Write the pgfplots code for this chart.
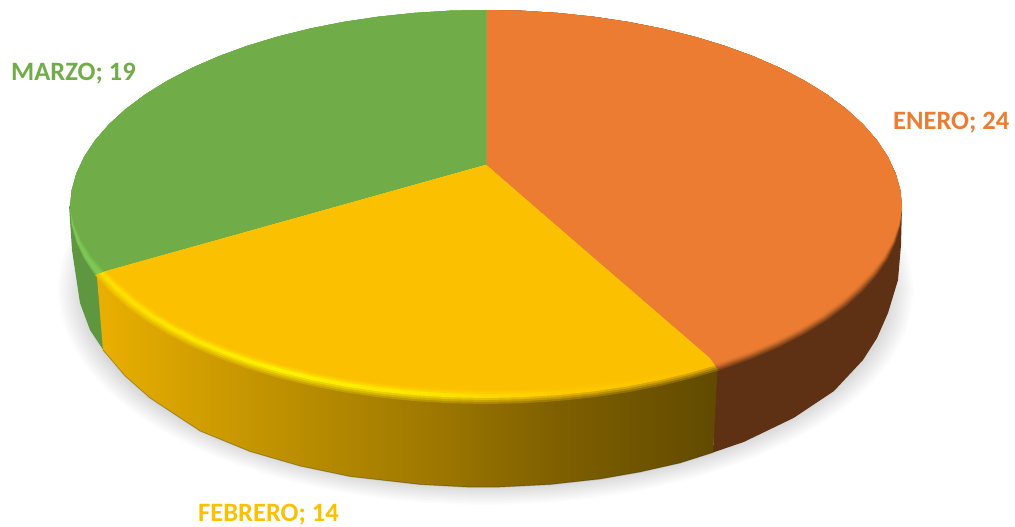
\documentclass[border=0pt]{standalone}
\usepackage{fontspec}
\setmainfont{Carlito}
\usepackage{pgfplots}
\usepackage{pgfplotstable}
\pgfplotsset{compat=1.18}
\definecolor{cOrange}{HTML}{EB7C31}
\definecolor{cYellow}{HTML}{FBC000}
\definecolor{cGreen}{HTML}{70AD48}
\definecolor{cBrown}{HTML}{5F3114}
\definecolor{cGreenSide}{HTML}{5F9741}
\definecolor{cGreenHi}{HTML}{7DC855}
% side colours of the yellow slice, left to right
\definecolor{eA}{HTML}{EAB000}\definecolor{eB}{HTML}{BE9000}\definecolor{eC}{HTML}{9E7800}\definecolor{eD}{HTML}{7F6000}\definecolor{eE}{HTML}{614A00}
% highlight colours of the yellow rim, left to right
\definecolor{hA}{HTML}{FFDD00}\definecolor{hB}{HTML}{FFF000}\definecolor{hC}{HTML}{FFE400}\definecolor{hD}{HTML}{FFCA00}\definecolor{hE}{HTML}{FBC000}
\newcommand\yrim[3]{%
  \pgfdeclarehorizontalshading{#1}{100bp}{%
    color(0bp)=(#2A!#3!hA);color(25bp)=(#2A!#3!hA);color(40bp)=(#2B!#3!hB);color(52bp)=(#2C!#3!hC);color(62bp)=(#2D!#3!hD);color(75bp)=(#2E!#3!hE);color(100bp)=(#2E!#3!hE)}}
\yrim{yE}{e}{100}
\yrim{yA}{e}{75}
\yrim{yB}{e}{50}
\yrim{yC}{e}{25}
\yrim{yH}{e}{0}
\pgfdeclarehorizontalshading{yF}{100bp}{color(0bp)=(hA!50!cYellow);color(25bp)=(hA!50!cYellow);color(40bp)=(hB!50!cYellow);color(52bp)=(hC!50!cYellow);color(62bp)=(hD!50!cYellow);color(75bp)=(cYellow);color(100bp)=(cYellow)}
\pgfdeclarehorizontalshading{yG}{100bp}{color(0bp)=(hA!20!cYellow);color(25bp)=(hA!20!cYellow);color(40bp)=(hB!20!cYellow);color(52bp)=(hC!20!cYellow);color(62bp)=(hD!20!cYellow);color(75bp)=(cYellow);color(100bp)=(cYellow)}

% slice outlines on the unit ellipse
\pgfplotstableread{
c s
0 -0.2172
0 -1
.0872 -.9962
.1736 -.9848
.2588 -.9659
.3420 -.9397
.4226 -.9063
.5 -.8660
.5736 -.8192
.6428 -.7660
.7071 -.7071
.7660 -.6428
.8192 -.5736
.8660 -.5
.9063 -.4226
.9397 -.3420
.9659 -.2588
.9848 -.1736
.9962 -.0872
1 0
.9962 .0872
.9848 .1736
.9659 .2588
.9397 .3420
.9063 .4226
.8660 .5
.8192 .5736
.7660 .6428
.7071 .7071
.6428 .7660
.5736 .8192
.5592 .8290
}\tOrange
\pgfplotstableread{
c s
0 -0.2172
.5592 .8290
.5 .8660
.4226 .9063
.3420 .9397
.2588 .9659
.1736 .9848
.0872 .9962
0 1
-.0872 .9962
-.1736 .9848
-.2588 .9659
-.3420 .9397
-.4226 .9063
-.5 .8660
-.5736 .8192
-.6428 .7660
-.7071 .7071
-.7660 .6428
-.8192 .5736
-.8660 .5
-.9063 .4226
-.9397 .3420
}\tYellow
\pgfplotstableread{
c s
0 -0.2172
-.9397 .3420
-.9659 .2588
-.9848 .1736
-.9962 .0872
-1 0
-.9962 -.0872
-.9848 -.1736
-.9659 -.2588
-.9397 -.3420
-.9063 -.4226
-.8660 -.5
-.8192 -.5736
-.7660 -.6428
-.7071 -.7071
-.6428 -.7660
-.5736 -.8192
-.5 -.8660
-.4226 -.9063
-.3420 -.9397
-.2588 -.9659
-.1736 -.9848
-.0872 -.9962
0 -1
}\tGreen
\pgfplotstableread{
c s
1 0
.9848 .1736
.9397 .3420
.8660 .5
.7660 .6428
.6428 .7660
.5 .8660
.3420 .9397
.1736 .9848
0 1
-.1736 .9848
-.3420 .9397
-.5 .8660
-.6428 .7660
-.7660 .6428
-.8660 .5
-.9397 .3420
-.9848 .1736
-1 0
-.9848 -.1736
-.9397 -.3420
-.8660 -.5
-.7660 -.6428
-.6428 -.7660
-.5 -.8660
-.3420 -.9397
-.1736 -.9848
0 -1
.1736 -.9848
.3420 -.9397
.5 -.8660
.6428 -.7660
.7660 -.6428
.8660 -.5
.9397 -.3420
.9848 -.1736
1 0
}\tCircle
\newcommand\slicelayer[3]{%
  \addplot[draw=none,#3] table[
    x expr={486+(416-#2*max(0,min(1,2.5*\thisrow{s})))*\thisrow{c}},
    y expr={208+((\thisrow{s}<0?198:196)-#2*max(0,min(1,2.5*\thisrow{s})))*\thisrow{s}}] #1;}
\begin{document}
\begin{tikzpicture}
\path[use as bounding box] (0,0) rectangle (1015pt,527pt);
\begin{axis}[at={(0,0)},anchor=south west,scale only axis,width=1015pt,height=527pt,
  xmin=0,xmax=1015,ymin=0,ymax=527,y dir=reverse,hide axis,no markers,clip=false]
% soft shadow
\pgfplotsinvokeforeach{24,22,20,18,16,14,12,10,8,6,4,2,0}{
  \addplot[draw=none,fill=black,fill opacity=.011,smooth] table[
    x expr={486+(404+#1)*\thisrow{c}},
    y expr={290+(197+.75*#1)*\thisrow{s}}] \tCircle;
}
% sides
\addplot[draw=none,fill=cBrown] coordinates {(716,360)(902,205)(901,245)(898,280)(888,313)(877,338)(863,360)(834,391)(793.5,418)(743.7,442)(713,452.5)};
\addplot[draw=none,fill=cGreenSide] coordinates {(96,262)(69,205)(72,250)(80,303)(90,330)(104,351)};
\addplot[draw=none,shade,shading=yE] coordinates {(96,265)(718,360)(713,452.5)(680,463)(640,472)(600,479)(550,484.5)(500,487)(467,487)(420,484.5)(350,476.5)(300,466)(250,451.5)(200,431)(150,398)(125,376)(103,350)};
\addplot[draw=black!50!eE,draw opacity=.3,line width=1pt] coordinates {(713,452.5)(680,463)(640,472)(600,479)(550,484.5)(500,487)(467,487)(420,484.5)(350,476.5)(300,466)(250,451.5)(200,431)(150,398)(125,376)(103,350)};
% orange top with dark rim
\slicelayer{\tOrange}{0}{fill=cOrange!20!cBrown}
\slicelayer{\tOrange}{1.5}{fill=cOrange!40!cBrown}
\slicelayer{\tOrange}{3}{fill=cOrange!60!cBrown}
\slicelayer{\tOrange}{4.5}{fill=cOrange!80!cBrown}
\slicelayer{\tOrange}{6}{fill=cOrange!92!cBrown}
\slicelayer{\tOrange}{7.5}{fill=cOrange}
% green top with light rim
\slicelayer{\tGreen}{0}{fill=cGreenHi!60!cGreenSide}
\slicelayer{\tGreen}{2}{fill=cGreenHi}
\slicelayer{\tGreen}{6}{fill=cGreenHi}
\slicelayer{\tGreen}{8}{fill=cGreenHi!60!cGreen}
\slicelayer{\tGreen}{10}{fill=cGreenHi!30!cGreen}
\slicelayer{\tGreen}{12}{fill=cGreen}
% yellow top with bright rim
\slicelayer{\tYellow}{0}{shade,shading=yA}
\slicelayer{\tYellow}{2}{shade,shading=yB}
\slicelayer{\tYellow}{4}{shade,shading=yC}
\slicelayer{\tYellow}{6}{shade,shading=yH}
\slicelayer{\tYellow}{8}{shade,shading=yH}
\slicelayer{\tYellow}{10}{shade,shading=yF}
\slicelayer{\tYellow}{12}{shade,shading=yG}
\slicelayer{\tYellow}{14}{fill=cYellow}
% labels
\node[anchor=west,text=cGreen,font=\fontsize{26.5}{30}\selectfont\bfseries,inner sep=0pt] at (axis cs:11,73.5) {MARZO; 19};
\node[anchor=west,text=cOrange,font=\fontsize{26.5}{30}\selectfont\bfseries,inner sep=0pt] at (axis cs:893,122.5) {ENERO; 24};
\node[anchor=west,text=cYellow,font=\fontsize{26.5}{30}\selectfont\bfseries,inner sep=0pt] at (axis cs:198,515) {FEBRERO; 14};
\end{axis}
\end{tikzpicture}
\end{document}
